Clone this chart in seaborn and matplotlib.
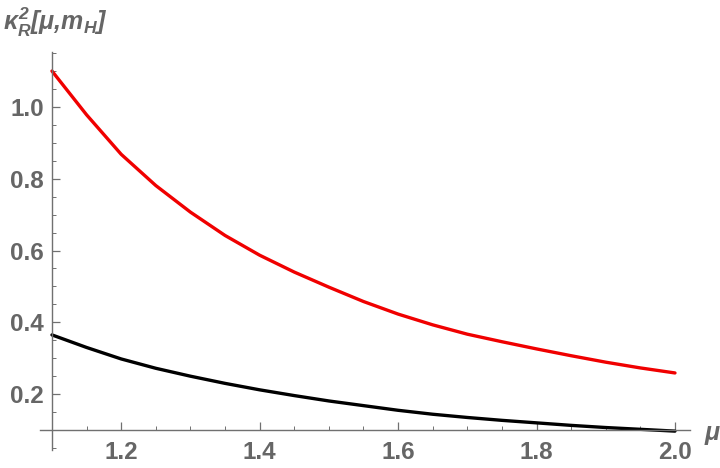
import numpy as np
import pandas as pd
import matplotlib
matplotlib.use("Agg")
import matplotlib.pyplot as plt
from matplotlib.ticker import MultipleLocator, FormatStrFormatter
import seaborn as sns

# values
mu = [1.10, 1.15, 1.20, 1.25, 1.30, 1.35, 1.40, 1.45, 1.50, 1.55,
      1.60, 1.65, 1.70, 1.75, 1.80, 1.85, 1.90, 1.95, 2.00]
kappa_red = [1.100, 0.978, 0.868, 0.781, 0.707, 0.642, 0.587, 0.540, 0.498, 0.458,
             0.423, 0.393, 0.367, 0.346, 0.326, 0.307, 0.289, 0.273, 0.259]
kappa_black = [0.365, 0.330, 0.298, 0.272, 0.250, 0.230, 0.212, 0.196, 0.181, 0.168,
               0.155, 0.144, 0.135, 0.127, 0.120, 0.113, 0.107, 0.102, 0.097]

df = pd.DataFrame({"mu": mu + mu,
                   "kappa": kappa_red + kappa_black,
                   "curve": ["red"] * len(mu) + ["black"] * len(mu)})

sns.set_style("white")
plt.rcParams["font.family"] = ["Liberation Sans", "DejaVu Sans"]
plt.rcParams["mathtext.fontset"] = "custom"
plt.rcParams["mathtext.it"] = "Liberation Sans:italic:bold"
plt.rcParams["mathtext.rm"] = "Liberation Sans:italic:bold"
plt.rcParams["mathtext.bf"] = "Liberation Sans:italic:bold"

gray = "#666666"
axcol = "#707070"

fig = plt.figure(figsize=(7.2, 4.68), dpi=100)
ax = fig.add_axes([40 / 720, 1 - 450 / 468, 650 / 720, 398 / 468])

sns.lineplot(data=df, x="mu", y="kappa", hue="curve",
             palette={"red": "#f00000", "black": "black"},
             linewidth=2.4, legend=False, ax=ax)

ax.set_xlim(1.0827, 2.0217)
ax.set_ylim(0.0444, 1.153)

for side in ["top", "right"]:
    ax.spines[side].set_visible(False)
ax.spines["left"].set_position(("data", 1.1))
ax.spines["bottom"].set_position(("data", 0.1))
for side in ["left", "bottom"]:
    ax.spines[side].set_color(axcol)
    ax.spines[side].set_linewidth(1.0)

ax.xaxis.set_major_locator(MultipleLocator(0.2))
ax.xaxis.set_minor_locator(MultipleLocator(0.05))
ax.yaxis.set_major_locator(MultipleLocator(0.2))
ax.yaxis.set_minor_locator(MultipleLocator(0.05))
ax.xaxis.set_major_formatter(FormatStrFormatter("%.1f"))
ax.yaxis.set_major_formatter(FormatStrFormatter("%.1f"))

ax.tick_params(which="both", bottom=True, left=True, top=False, right=False)
ax.tick_params(which="major", direction="in", length=6, width=0.9, color=axcol,
               labelsize=17.5, labelcolor=gray)
ax.tick_params(which="minor", direction="in", length=3.2, width=0.7, color=axcol)
ax.tick_params(axis="x", which="major", pad=8)
ax.tick_params(axis="y", which="major", pad=6)
for lab in ax.get_xticklabels() + ax.get_yticklabels():
    lab.set_fontweight("bold")

ax.set_xlabel("")
ax.set_ylabel("")

fig.text(712 / 720, 1 - 433 / 468, "μ", fontsize=18, fontweight="bold",
         fontstyle="italic", color=gray, ha="center", va="center")
fig.text(0.004, 1 - 22 / 468, r"$\kappa_R^2[\mu{,}m_H]$", fontsize=18,
         color=gray, ha="left", va="center")

fig.savefig("out.png", dpi=100)
